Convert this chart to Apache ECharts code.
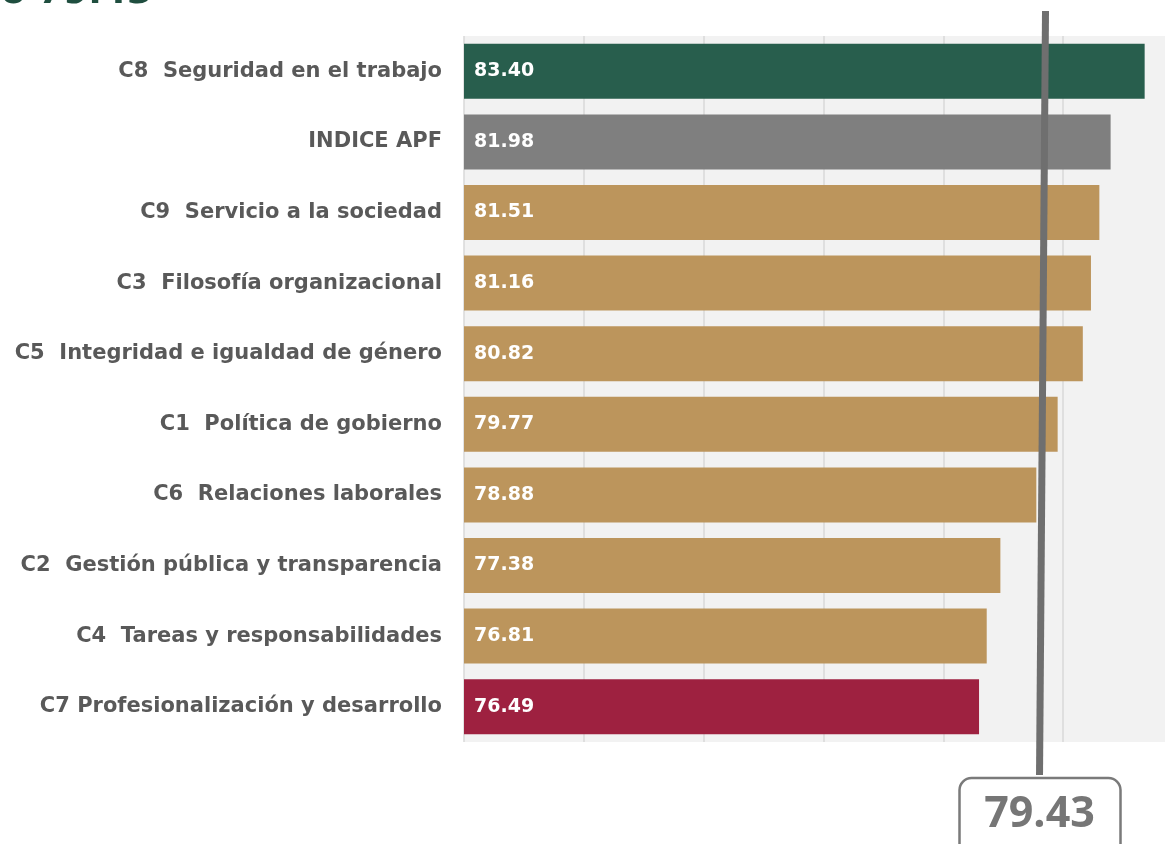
<!DOCTYPE html>
<html>
<head>
<meta charset="utf-8">
<script src="https://cdn.jsdelivr.net/npm/echarts@6/dist/echarts.min.js"></script>
<style>
  html, body { margin: 0; padding: 0; background: #fff; overflow: hidden; }
  #chart { width: 1200px; height: 844px; }
</style>
</head>
<body>
<div id="chart"></div>
<script>
const categories = [
  'C8  Seguridad en el trabajo',
  'INDICE APF',
  'C9  Servicio a la sociedad',
  'C3  Filosofía organizacional',
  'C5  Integridad e igualdad de género',
  'C1  Política de gobierno',
  'C6  Relaciones laborales',
  'C2  Gestión pública y transparencia',
  'C4  Tareas y responsabilidades',
  'C7 Profesionalización y desarrollo'
]
const values = [83.40, 81.98, 81.51, 81.16, 80.82, 79.77, 78.88, 77.38, 76.81, 76.49]
const barColors = ['#285e4d', '#7f7f7f', '#bc955c', '#bc955c', '#bc955c', '#bc955c', '#bc955c', '#bc955c', '#bc955c', '#9e2140']
const promedio = 79.43
const axisMin = 55
const axisMax = 85
const axisStep = 5

const chart = echarts.init(document.getElementById('chart'))

chart.setOption({
  animation: false,
  textStyle: { fontFamily: 'DejaVu Sans' },
  grid: {
    left: 464,
    top: 36,
    right: 17,
    bottom: 102,
    show: true,
    backgroundColor: '#f2f2f2',
    borderWidth: 0
  },
  xAxis: {
    type: 'value',
    min: axisMin,
    max: axisMax,
    interval: axisStep,
    axisLabel: { show: false },
    axisLine: { show: false },
    axisTick: { show: false },
    splitLine: { lineStyle: { color: '#d9d9d9', width: 1.5 } }
  },
  yAxis: {
    type: 'category',
    inverse: true,
    data: categories,
    axisLine: { show: false },
    axisTick: { show: false },
    axisLabel: {
      margin: 22,
      color: '#595959',
      fontSize: 21,
      fontWeight: 'bold',
      fontFamily: 'DejaVu Sans'
    }
  },
  series: [
    {
      type: 'bar',
      barWidth: 55,
      data: values.map((v, i) => ({ value: v, itemStyle: { color: barColors[i] } })),
      label: {
        show: true,
        position: 'insideLeft',
        distance: 10,
        color: '#fff',
        fontSize: 19,
        fontWeight: 'bold',
        fontFamily: 'DejaVu Sans',
        formatter: p => p.value.toFixed(2)
      }
    }
  ]
})

// linea del promedio y recuadro con su valor
const px = chart.convertToPixel({ xAxisIndex: 0 }, promedio)
chart.setOption({
  graphic: [
    {
      type: 'text',
      x: -168,
      y: -24,
      style: {
        text: 'Promedio 79.43',
        fill: '#1f4e3f',
        font: 'bold 36px "DejaVu Sans"'
      }
    },
    {
      type: 'line',
      shape: { x1: px - 4, y1: 11, x2: px - 10, y2: 775 },
      style: { stroke: '#6f6f6f', lineWidth: 7 },
      z: 10
    },
    {
      type: 'rect',
      shape: { x: px - 90, y: 778, width: 161, height: 90, r: 12 },
      style: { fill: '#fff', stroke: '#7a7a7a', lineWidth: 2.5 },
      z: 10
    },
    {
      type: 'text',
      x: px - 10,
      y: 815,
      style: {
        text: promedio.toFixed(2),
        fill: '#767676',
        font: 'bold 43px "Open Sans"',
        align: 'center',
        verticalAlign: 'middle'
      },
      z: 11
    }
  ]
})
</script>
</body>
</html>
